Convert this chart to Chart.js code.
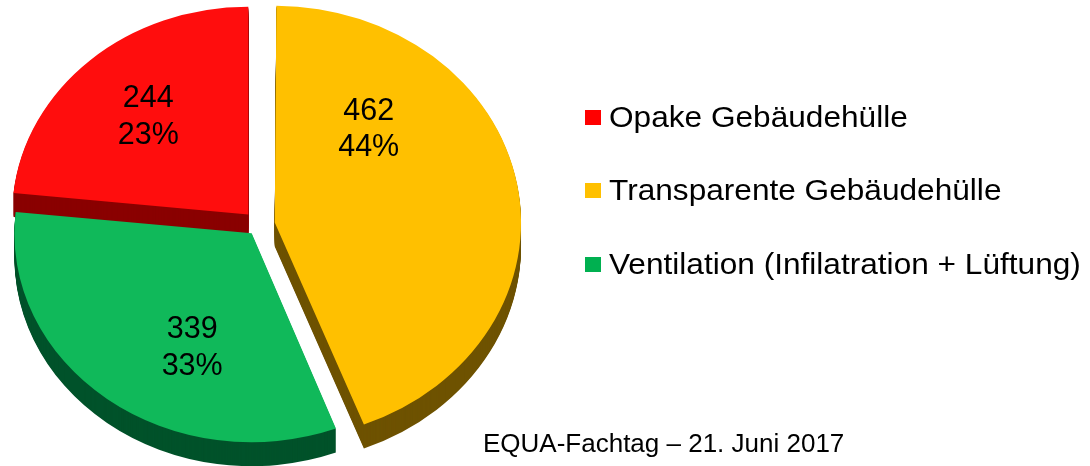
<!DOCTYPE html>
<html><head><meta charset="utf-8">
<script src="https://cdn.jsdelivr.net/npm/chart.js@4"></script>
<style>
html,body{margin:0;padding:0;background:#fff;}
#wrap{position:relative;width:1090px;height:466px;overflow:hidden;font-family:"Liberation Sans",Arial,sans-serif;color:#000;}
#c{position:absolute;left:0;top:0;}
.leg{position:absolute;left:585px;height:32px;white-space:nowrap;}
.leg .box{position:absolute;left:0;top:8.5px;width:16px;height:15px;}
.leg .txt{position:absolute;left:24px;top:0;font-size:29px;line-height:32px;transform:scaleX(1.09);transform-origin:0 50%;}
#foot{position:absolute;left:483px;top:428px;font-size:26px;line-height:30px;white-space:nowrap;}
</style></head>
<body><div id="wrap"><canvas id="c" width="1090" height="466"></canvas></div>
<script>
const categories = ['Opake Gebäudehülle', 'Transparente Gebäudehülle', 'Ventilation (Infilatration + Lüftung)'];
const values = [244, 462, 339];
const percentLabels = ['23%', '44%', '33%'];
const topColors = ['#FF0D0D', '#FFC000', '#10B95A'];
const sideColors = ['#8A0000', '#6E5200', '#00522A'];
const legendColors = ['#FF0000', '#FFC000', '#00B050'];
const offsets = [64, 64, 48];
const labelFrac = [0.633, 0.6, 0.607];
const labelShiftDeg = [0, -38, -13];
const legendRowY = [117, 190, 264];
const footerText = 'EQUA-Fachtag – 21. Juni 2017';
const TILT = 0.88, DEPTH = 24;

const wrap = document.getElementById('wrap');
categories.forEach((name, i) => {
  const d = document.createElement('div');
  d.className = 'leg';
  d.style.top = (legendRowY[i] - 16) + 'px';
  d.innerHTML = '<div class="box" style="background:' + legendColors[i] + '"></div><div class="txt"></div>';
  d.querySelector('.txt').textContent = name;
  wrap.appendChild(d);
});
const f = document.createElement('div');
f.id = 'foot'; f.textContent = footerText; wrap.appendChild(f);

function tiltTransform(ctx, cx, cy) {
  ctx.translate(cx, cy); ctx.scale(1, TILT); ctx.translate(-cx, -cy);
}

const tiltPlugin = {
  id: 'tilt3d',
  beforeDatasetsDraw(chart) {
    const ctx = chart.ctx;
    const arcs = chart.getDatasetMeta(0).data;
    const cx = arcs[0].x, cy = arcs[0].y;
    for (let t = DEPTH; t >= 1; t--) {
      arcs.forEach((arc, i) => {
        const p = Object.create(arc);
        p.options = Object.assign({}, arc.options, {backgroundColor: sideColors[i], borderWidth: 0});
        ctx.save();
        ctx.translate(0, t);
        tiltTransform(ctx, cx, cy);
        p.draw(ctx);
        ctx.restore();
      });
    }
    ctx.save();
    tiltTransform(ctx, cx, cy);
  },
  afterDatasetsDraw(chart) {
    const ctx = chart.ctx;
    ctx.restore();
    const arcs = chart.getDatasetMeta(0).data;
    const cy0 = arcs[0].y;
    ctx.save();
    ctx.fillStyle = '#000';
    ctx.font = '30.5px "Liberation Sans", Arial, sans-serif';
    ctx.textAlign = 'center';
    ctx.textBaseline = 'middle';
    arcs.forEach((arc, i) => {
      const a0 = (arc.startAngle + arc.endAngle) / 2;
      const sh = offsets[i] / 4;
      const ox = arc.x + Math.cos(a0) * sh, oy = arc.y + Math.sin(a0) * sh;
      const a = a0 + labelShiftDeg[i] * Math.PI / 180;
      const r = labelFrac[i] * arc.outerRadius;
      const px = ox + Math.cos(a) * r;
      const py = cy0 + (oy + Math.sin(a) * r - cy0) * TILT;
      ctx.fillText(String(values[i]), px, py - 18);
      ctx.fillText(percentLabels[i], px, py + 18.5);
    });
    ctx.restore();
  }
};

const total = values.reduce((s, v) => s + v, 0);
new Chart(document.getElementById('c'), {
  type: 'pie',
  data: {
    labels: categories,
    datasets: [{
      data: values,
      backgroundColor: topColors,
      borderWidth: 0,
      offset: offsets,
      clip: false
    }]
  },
  options: {
    responsive: false,
    animation: false,
    radius: 236,
    rotation: -(values[0] / total) * 360,
    layout: {padding: {left: 12, right: 584, top: 0, bottom: 16}},
    plugins: {legend: {display: false}, tooltip: {enabled: false}},
    events: []
  },
  plugins: [tiltPlugin]
});
</script></body></html>
